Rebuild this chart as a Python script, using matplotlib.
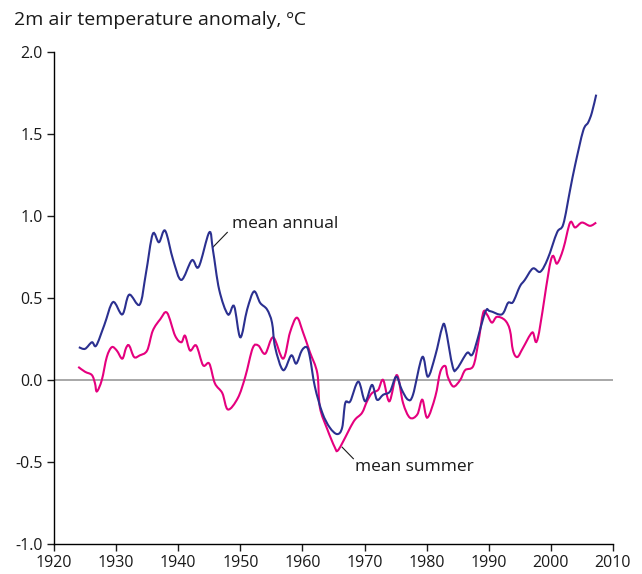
import matplotlib
matplotlib.use('Agg')
import matplotlib.pyplot as plt
from matplotlib.path import Path
from matplotlib.patches import PathPatch

plt.rcParams['font.family'] = ['Open Sans', 'DejaVu Sans']

# mean annual 2m air temperature anomaly
annual_years = [1924.0, 1925.0, 1926.1, 1926.8, 1928.1, 1929.5, 1931.0, 1932.1, 1933.8,
                1934.8, 1935.9, 1936.9, 1937.9, 1939.2, 1940.5, 1942.2, 1943.3, 1945.0,
                1945.6, 1946.6, 1948.0, 1949.0, 1950.0, 1951.1, 1952.2, 1953.2, 1954.3,
                1955.1, 1955.6, 1956.9, 1958.2, 1959.0, 1959.9, 1960.7, 1961.2, 1962.0,
                1963.2, 1964.4, 1965.6, 1966.4, 1966.9, 1967.7, 1969.0, 1970.1, 1971.2,
                1972.0, 1973.0, 1974.1, 1975.1, 1976.0, 1977.0, 1977.8, 1979.3, 1980.2,
                1981.4, 1982.5, 1983.0, 1984.2, 1984.9, 1986.5, 1987.5, 1989.4, 1990.2,
                1992.1, 1993.1, 1993.9, 1995.0, 1995.8, 1997.1, 1998.3, 1999.5, 2001.0,
                2002.0, 2003.1, 2003.9, 2005.2, 2006.0, 2006.6, 2007.3]
annual_vals = [0.20, 0.19, 0.23, 0.21, 0.335, 0.475, 0.40, 0.52, 0.46,
               0.65, 0.89, 0.84, 0.91, 0.73, 0.61, 0.73, 0.69, 0.90,
               0.79, 0.55, 0.40, 0.45, 0.26, 0.43, 0.54, 0.47, 0.43,
               0.35, 0.20, 0.06, 0.15, 0.10, 0.18, 0.20, 0.14, -0.04,
               -0.20, -0.29, -0.33, -0.29, -0.14, -0.13, -0.01, -0.13, -0.03,
               -0.12, -0.09, -0.07, 0.02, -0.06, -0.12, -0.09, 0.14, 0.02,
               0.15, 0.32, 0.32, 0.08, 0.07, 0.165, 0.165, 0.41, 0.42,
               0.40, 0.47, 0.475, 0.57, 0.61, 0.68, 0.66, 0.74, 0.90,
               0.95, 1.16, 1.31, 1.52, 1.57, 1.63, 1.74]

# mean summer 2m air temperature anomaly
summer_years = [1923.9, 1925.0, 1926.1, 1926.6, 1926.9, 1927.7, 1928.5, 1929.3, 1930.1,
                1931.0, 1931.6, 1932.1, 1932.9, 1933.8, 1935.0, 1935.9, 1937.1, 1938.2,
                1939.5, 1940.5, 1941.1, 1941.9, 1942.9, 1944.0, 1945.0, 1945.9, 1947.1,
                1948.0, 1949.6, 1950.8, 1952.0, 1952.9, 1954.0, 1955.3, 1956.9, 1958.0,
                1959.1, 1960.1, 1961.2, 1962.4, 1962.8, 1964.0, 1965.2, 1965.7, 1966.9,
                1967.7, 1968.5, 1969.6, 1970.4, 1971.2, 1972.2, 1973.0, 1974.0, 1975.2,
                1976.2, 1977.3, 1978.5, 1979.3, 1980.1, 1981.4, 1982.2, 1983.0, 1983.4,
                1984.3, 1985.4, 1986.2, 1987.5, 1988.3, 1989.1, 1989.7, 1990.5, 1991.3,
                1992.6, 1993.4, 1993.9, 1994.6, 1995.5, 1997.0, 1997.9, 2000.0, 2001.0,
                2002.0, 2003.1, 2003.9, 2005.0, 2006.3, 2007.3]
summer_vals = [0.08, 0.05, 0.03, -0.02, -0.07, 0.0, 0.14, 0.20, 0.18,
               0.13, 0.195, 0.21, 0.14, 0.15, 0.18, 0.30, 0.37, 0.41,
               0.27, 0.23, 0.27, 0.18, 0.21, 0.09, 0.10, -0.02, -0.08,
               -0.18, -0.11, 0.02, 0.195, 0.21, 0.16, 0.26, 0.13, 0.29,
               0.38, 0.29, 0.17, 0.04, -0.165, -0.30, -0.41, -0.43, -0.35,
               -0.29, -0.24, -0.20, -0.13, -0.08, -0.06, 0.0, -0.13, 0.03,
               -0.14, -0.23, -0.21, -0.12, -0.23, -0.10, 0.05, 0.085, 0.02,
               -0.04, 0.0, 0.06, 0.085, 0.225, 0.41, 0.40, 0.35, 0.385,
               0.365, 0.305, 0.18, 0.14, 0.195, 0.29, 0.255, 0.73, 0.71,
               0.80, 0.96, 0.93, 0.96, 0.94, 0.96]

x_ticks = [1920, 1930, 1940, 1950, 1960, 1970, 1980, 1990, 2000, 2010]
y_ticks = [-1.0, -0.5, 0.0, 0.5, 1.0, 1.5, 2.0]


def smooth_path(xs, ys):
    # bezier segments through the data points (catmull-rom style handles)
    pts = list(zip(xs, ys))
    verts = [pts[0]]
    codes = [Path.MOVETO]
    n = len(pts)
    for i in range(n - 1):
        p0 = pts[max(i - 1, 0)]
        p1 = pts[i]
        p2 = pts[i + 1]
        p3 = pts[min(i + 2, n - 1)]
        c1 = (p1[0] + (p2[0] - p0[0]) / 6, p1[1] + (p2[1] - p0[1]) / 6)
        c2 = (p2[0] - (p3[0] - p1[0]) / 6, p2[1] - (p3[1] - p1[1]) / 6)
        verts += [c1, c2, p2]
        codes += [Path.CURVE4] * 3
    return Path(verts, codes)


fig = plt.figure(figsize=(6.42, 5.74), dpi=100)
ax = fig.add_axes([0.0841, 0.0523, 0.8707, 0.8571])

ax.axhline(0, color='#9a9a9a', lw=1.2, zorder=1)
ax.add_patch(PathPatch(smooth_path(summer_years, summer_vals), fc='none',
                       ec='#e5007e', lw=1.5, zorder=2))
ax.add_patch(PathPatch(smooth_path(annual_years, annual_vals), fc='none',
                       ec='#2b3090', lw=1.5, zorder=3))

ax.set_xlim(1920, 2010)
ax.set_ylim(-1.0, 2.0)
ax.set_xticks(x_ticks)
ax.set_yticks(y_ticks)
ax.set_yticklabels(['%.1f' % v for v in y_ticks])

for s in ['top', 'right']:
    ax.spines[s].set_visible(False)
for s in ['left', 'bottom']:
    ax.spines[s].set_linewidth(1.0)
ax.tick_params(axis='both', direction='out', length=5, width=1.0,
               labelsize=11.5, colors='#1a1a1a', pad=3)

# labels with leader lines
ax.plot([1947.9, 1945.6], [0.90, 0.81], color='#1a1a1a', lw=0.8)
ax.text(1948.6, 0.95, 'mean annual', fontsize=12.5, va='center', ha='left', color='#1a1a1a')
ax.plot([1966.4, 1968.2], [-0.41, -0.48], color='#1a1a1a', lw=0.8)
ax.text(1968.5, -0.53, 'mean summer', fontsize=12.5, va='center', ha='left', color='#1a1a1a')

fig.text(14 / 642, 1 - 20 / 574, '2m air temperature anomaly, ºC', fontsize=14,
         va='center', ha='left', color='#1a1a1a')

fig.savefig('out.png', dpi=100)
